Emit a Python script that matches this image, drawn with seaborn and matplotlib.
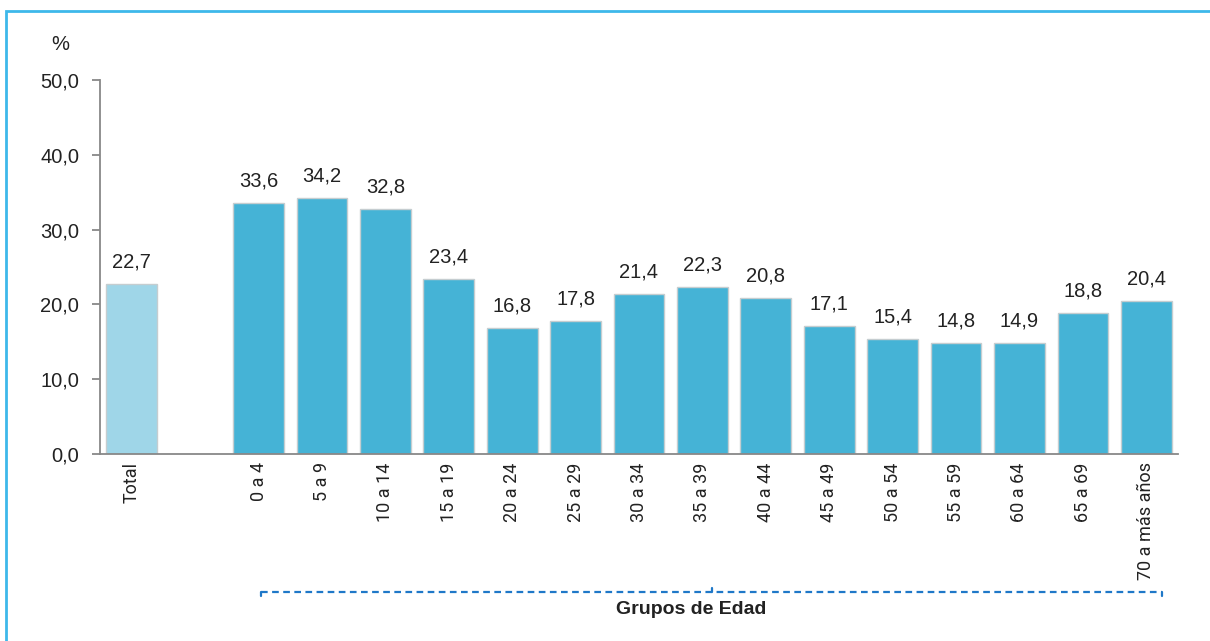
import matplotlib
matplotlib.use("Agg")
import matplotlib.pyplot as plt
import matplotlib.font_manager as fm
import matplotlib.transforms as mtransforms
from matplotlib.lines import Line2D
from matplotlib.patches import Rectangle
import seaborn as sns
import pandas as pd

categories = ["Total", "", "0 a 4", "5 a 9", "10 a 14", "15 a 19", "20 a 24", "25 a 29",
              "30 a 34", "35 a 39", "40 a 44", "45 a 49", "50 a 54", "55 a 59",
              "60 a 64", "65 a 69", "70 a más años"]
values = [22.7, None, 33.6, 34.2, 32.8, 23.4, 16.8, 17.8, 21.4, 22.3, 20.8, 17.1,
          15.4, 14.8, 14.9, 18.8, 20.4]
yticks = [0, 10, 20, 30, 40, 50]
ytick_labels = ["0,0", "10,0", "20,0", "30,0", "40,0", "50,0"]
group_label = "Grupos de Edad"

sns.set_theme(style="white")
names = {f.name for f in fm.fontManager.ttflist}
narrow = "Liberation Sans Narrow" if "Liberation Sans Narrow" in names else "Roboto"
plt.rcParams['font.family'] = ['Liberation Sans', 'DejaVu Sans']

df = pd.DataFrame({"cat": [c for c, v in zip(categories, values) if v is not None],
                   "val": [v for v in values if v is not None]})
order = categories
palette = {c: ("#9fd6e8" if c == "Total" else "#45b3d6") for c in df["cat"]}

fig = plt.figure(figsize=(12.10, 6.41), dpi=100)
ax = fig.add_axes([100/1210, 1-454/641, 1078/1210, (454-80)/641])
sns.barplot(data=df, x="cat", y="val", order=order, hue="cat", palette=palette,
            legend=False, width=0.8, edgecolor="#c5cdd0", linewidth=1.0, ax=ax,
            saturation=1)

ax.set_ylim(0, 50)
ax.set_xlim(-0.5, len(categories) - 0.5)
ax.set_yticks(yticks)
ax.set_yticklabels(ytick_labels, fontsize=14.5, color="#222222")
ax.set_xticks(range(len(categories)))
ax.set_xticklabels(categories, rotation=90, fontsize=13, family=[narrow, 'DejaVu Sans'],
                   color="#222222", va="top", ha="center")
ax.set_xticks([i - 0.5 for i in range(len(categories) + 1)], minor=True)
ax.tick_params(axis="x", which="major", length=0, pad=6)
ax.tick_params(axis="x", which="minor", length=6, width=1.3, color="#888888", direction="out")
ax.tick_params(axis="y", length=6, width=1.3, color="#888888", direction="out", pad=9, left=True)
ax.set_xlabel("")
ax.set_ylabel("")
for s in ["top", "right"]:
    ax.spines[s].set_visible(False)
for s in ["left", "bottom"]:
    ax.spines[s].set_color("#888888")
    ax.spines[s].set_linewidth(1.3)

for i, v in enumerate(values):
    if v is not None:
        ax.annotate(f"{v:.1f}".replace(".", ","), (i, v), xytext=(0, 9),
                    textcoords="offset points", ha="center", va="bottom",
                    fontsize=14.5, color="#222222")

fig.text(60/1210, 1-45/641, "%", fontsize=14.5, ha="center", va="center", color="#222222")

# bracket under the age groups
trans = mtransforms.blended_transform_factory(ax.transData, fig.transFigure)
yb = 1 - 592/641
dy = 4/641
x0, x1, xm = 2.04, 16.25, 9.15
col = "#1f78c8"
ax.add_line(Line2D([x0, x1], [yb, yb], transform=trans, color=col, lw=1.6,
                   ls=(0, (3, 2)), clip_on=False))
ax.add_line(Line2D([x0, x0], [yb, yb - dy], transform=trans, color=col, lw=1.6, clip_on=False))
ax.add_line(Line2D([x1, x1], [yb, yb - dy], transform=trans, color=col, lw=1.6, clip_on=False))
ax.add_line(Line2D([xm, xm], [yb, yb + dy], transform=trans, color=col, lw=1.6, clip_on=False))
fig.text(691/1210, 1-610/641, group_label, fontsize=14, fontweight="bold",
         ha="center", va="center", color="#222222")

# outer frame
fig.patches.append(Rectangle((6/1210, -0.1), 1.2, 1 - 11/641 + 0.1, transform=fig.transFigure,
                             fill=False, edgecolor="#3db8ea", lw=2))

fig.savefig("out.png", dpi=100)
